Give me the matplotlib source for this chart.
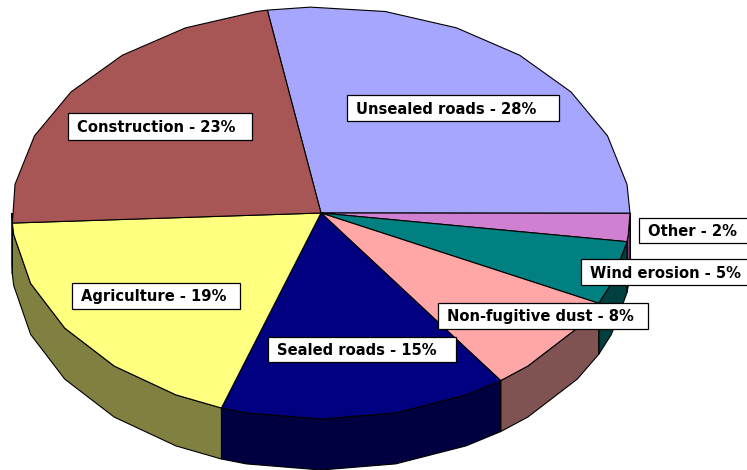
import numpy as np
import matplotlib
matplotlib.use("Agg")
import matplotlib.pyplot as plt
from matplotlib.patches import Rectangle

labels = ['Unsealed roads - 28%', 'Other - 2%', 'Wind erosion - 5%', 'Non-fugitive dust - 8%',
          'Sealed roads - 15%', 'Agriculture - 19%', 'Construction - 23%']
# shares as read from the slice edges, the labels are rounded
values = [27.8, 2.2, 5.0, 7.9, 15.1, 19.0, 23.0]
top_colors = ['#A6A6FF', '#D080D0', '#008080', '#FFA6A6', '#000080', '#FFFF80', '#A85555']
side_colors = ['#535380', '#804080', '#004040', '#805353', '#000040', '#808040', '#542A2A']
# label boxes in pixels: left, right, top, bottom
box_left = [347, 639, 581, 438, 268, 72, 68]
box_right = [559, 760, 760, 648, 456, 240, 252]
box_top = [95, 218, 259, 303, 337, 283, 113]
box_bottom = [121, 243, 285, 329, 362, 309, 140]

W, H = 747, 470
CX, CY = 321, 213
RX, RY = 309, 206
DEPTH = 51
START = 100.0
FACET = 14


def arc(t1, t2):
    # faceted arc going clockwise from t1 down to t2 (degrees)
    inner = 8 + FACET * np.arange(-30, 30)
    inner = inner[(inner < t1) & (inner > t2)]
    t = np.radians(np.concatenate([[t1], inner[::-1], [t2]]))
    return CX + RX * np.cos(t), CY - RY * np.sin(t)


fig = plt.figure(figsize=(W / 100, H / 100), dpi=100)
ax = fig.add_axes([0, 0, 1, 1])
ax.set_xlim(0, W)
ax.set_ylim(H, 0)
ax.axis('off')

edges = START - 3.6 * np.concatenate([[0], np.cumsum(values)])

# side walls, only the front half of the disc shows
for i in range(len(values)):
    t1 = min(edges[i], 0)
    t2 = max(edges[i + 1], -180)
    if t1 <= t2:
        continue
    x, y = arc(t1, t2)
    ax.fill(np.r_[x, x[::-1]], np.r_[y, y[::-1] + DEPTH],
            facecolor=side_colors[i], edgecolor='black', linewidth=0.8, zorder=2)

# top face
for i in range(len(values)):
    x, y = arc(edges[i], edges[i + 1])
    ax.fill(np.r_[CX, x], np.r_[CY, y],
            facecolor=top_colors[i], edgecolor='black', linewidth=0.8, zorder=3)

for i, name in enumerate(labels):
    ax.add_patch(Rectangle((box_left[i], box_top[i]), box_right[i] - box_left[i], box_bottom[i] - box_top[i],
                           facecolor='white', edgecolor='black', linewidth=0.9, zorder=4))
    ax.text(box_left[i] + 9, (box_top[i] + box_bottom[i]) / 2 + 1, name, ha='left', va='center',
            fontsize=10.6, fontweight='bold', family='DejaVu Sans', color='black', zorder=5)

fig.savefig('out.png', dpi=100)
